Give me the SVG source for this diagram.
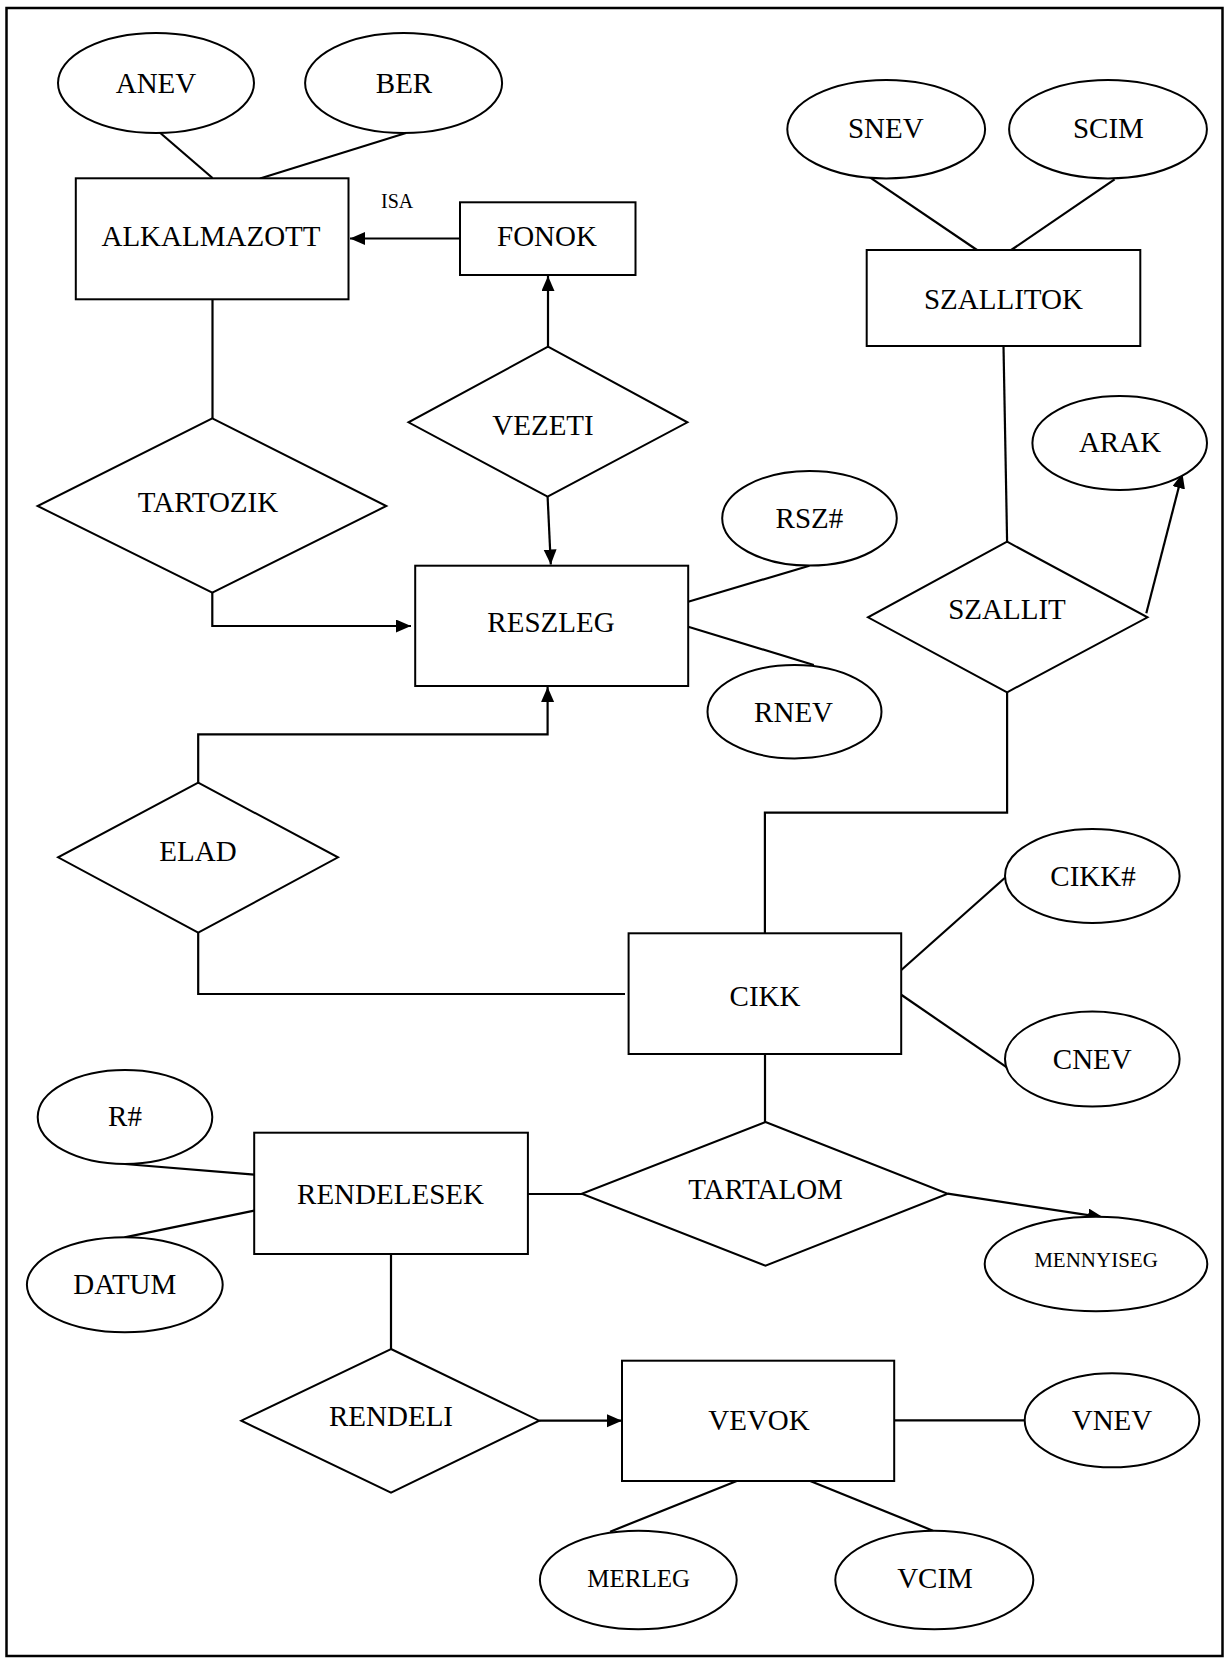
<svg xmlns="http://www.w3.org/2000/svg" width="1229" height="1663" viewBox="0 0 1229 1663">
<style>
.s{fill:#fff;stroke:#000;stroke-width:2}
.c{fill:none;stroke:#000;stroke-width:2.2}
text{font-family:"Liberation Serif","Times New Roman",serif;font-size:29px;fill:#000;text-anchor:middle}
.sm{font-size:20px;text-anchor:start}
</style>
<defs>
<marker id="ah" markerUnits="userSpaceOnUse" markerWidth="16" markerHeight="14" refX="15" refY="6.5" orient="auto">
<path d="M0,0 L15,6.5 L0,13 z" fill="#000"/>
</marker>
</defs>
<rect x="6.5" y="8" width="1216" height="1648" fill="#fff" stroke="#000" stroke-width="2.5"/>
<g id="connectors">
<line class="c" x1="158" y1="131" x2="212.5" y2="178"/>
<line class="c" x1="406" y1="133" x2="260" y2="178.5"/>
<line class="c" x1="460" y1="238.5" x2="350" y2="238.5" marker-end="url(#ah)"/>
<line class="c" x1="548" y1="346.7" x2="548" y2="276" marker-end="url(#ah)"/>
<line class="c" x1="212.5" y1="299.5" x2="212.5" y2="418.3"/>
<polyline class="c" points="212.3,592.7 212.3,626 411,626" marker-end="url(#ah)"/>
<line class="c" x1="547.6" y1="496.7" x2="550.8" y2="564.5" marker-end="url(#ah)"/>
<polyline class="c" points="198.2,782.7 198.2,734.3 547.6,734.3 547.6,687" marker-end="url(#ah)"/>
<polyline class="c" points="198.2,932.7 198.2,994 625,994"/>
<line class="c" x1="688.2" y1="601.7" x2="809.4" y2="565.7"/>
<line class="c" x1="688.2" y1="626.7" x2="813.8" y2="665"/>
<line class="c" x1="868.8" y1="176.7" x2="977" y2="250"/>
<line class="c" x1="1114.6" y1="179.3" x2="1011.2" y2="250"/>
<line class="c" x1="1003.5" y1="346" x2="1007.1" y2="541.7"/>
<line class="c" x1="1146.3" y1="613.3" x2="1182.4" y2="473.3" marker-end="url(#ah)"/>
<polyline class="c" points="1007.1,692.3 1007.1,812.7 764.9,812.7 764.9,933.3"/>
<line class="c" x1="898.8" y1="972.3" x2="1005" y2="877.7"/>
<line class="c" x1="901.6" y1="995" x2="1008.3" y2="1068.3"/>
<line class="c" x1="765" y1="1054" x2="765" y2="1122.3"/>
<line class="c" x1="124.6" y1="1164" x2="254.2" y2="1174.7"/>
<line class="c" x1="124.6" y1="1237.3" x2="254.2" y2="1210.7"/>
<line class="c" x1="527.9" y1="1194" x2="582.4" y2="1194"/>
<line class="c" x1="947.7" y1="1193.7" x2="1103" y2="1217.3" marker-end="url(#ah)"/>
<line class="c" x1="391" y1="1254" x2="391" y2="1349"/>
<line class="c" x1="539.2" y1="1420.7" x2="622" y2="1420.7" marker-end="url(#ah)"/>
<line class="c" x1="894.2" y1="1420.3" x2="1024.8" y2="1420.3"/>
<line class="c" x1="736.7" y1="1481" x2="610.1" y2="1531.7"/>
<line class="c" x1="810.2" y1="1481" x2="933" y2="1530.7"/>
</g>
<g id="ANEV"><ellipse class="s" cx="156" cy="83" rx="98" ry="50"/><text x="156" y="93">ANEV</text></g>
<g id="BER"><ellipse class="s" cx="403.6" cy="83" rx="98.5" ry="50"/><text x="404" y="93">BER</text></g>
<g id="ALKALMAZOTT"><rect class="s" x="75.8" y="178.3" width="272.7" height="121"/><text x="211" y="246">ALKALMAZOTT</text></g>
<g id="ISA"><text class="sm" x="381" y="208">ISA</text></g>
<g id="FONOK"><rect class="s" x="460" y="202.3" width="175.5" height="72.7"/><text x="547" y="246">FONOK</text></g>
<g id="VEZETI"><polygon class="s" points="548,346.7 687.4,422.3 547.6,496.7 408.5,422.3"/><text x="543" y="435">VEZETI</text></g>
<g id="TARTOZIK"><polygon class="s" points="212.3,418.3 386.3,506 212.3,592.7 37.6,506"/><text x="208" y="511.7">TARTOZIK</text></g>
<g id="RESZLEG"><rect class="s" x="415.2" y="565.7" width="273" height="120.3"/><text x="551" y="632.3">RESZLEG</text></g>
<g id="RSZ"><ellipse class="s" cx="809.5" cy="518.3" rx="87.3" ry="47.3"/><text x="809.4" y="528.3">RSZ#</text></g>
<g id="RNEV"><ellipse class="s" cx="794.5" cy="711.7" rx="87" ry="46.7"/><text x="793.6" y="721.7">RNEV</text></g>
<g id="SNEV"><ellipse class="s" cx="886.2" cy="129.2" rx="98.9" ry="49.2"/><text x="885.8" y="138.3">SNEV</text></g>
<g id="SCIM"><ellipse class="s" cx="1108" cy="129.2" rx="98.9" ry="49.2"/><text x="1108.4" y="138.3">SCIM</text></g>
<g id="SZALLITOK"><rect class="s" x="866.7" y="250" width="273.6" height="96"/><text x="1003.4" y="309.3">SZALLITOK</text></g>
<g id="ARAK"><ellipse class="s" cx="1119.7" cy="443" rx="87.3" ry="47"/><text x="1120" y="451.7">ARAK</text></g>
<g id="SZALLIT"><polygon class="s" points="1007.1,541.7 1147.5,617.3 1007.1,692.3 868,617.3"/><text x="1007" y="619.3">SZALLIT</text></g>
<g id="ELAD"><polygon class="s" points="198.2,782.7 338,857.3 198.2,932.7 58.1,857.3"/><text x="198" y="860.7">ELAD</text></g>
<g id="CIKK"><rect class="s" x="628.6" y="933.3" width="272.6" height="120.7"/><text x="765" y="1006">CIKK</text></g>
<g id="CIKKNO"><ellipse class="s" cx="1092.3" cy="876" rx="87.3" ry="47"/><text x="1093" y="885.7">CIKK#</text></g>
<g id="CNEV"><ellipse class="s" cx="1092.3" cy="1059" rx="87.3" ry="47.5"/><text x="1092.3" y="1069">CNEV</text></g>
<g id="R"><ellipse class="s" cx="125" cy="1117" rx="87.3" ry="47"/><text x="125" y="1126">R#</text></g>
<g id="DATUM"><ellipse class="s" cx="124.8" cy="1284.8" rx="97.9" ry="47.5"/><text x="124.8" y="1294.3">DATUM</text></g>
<g id="RENDELESEK"><rect class="s" x="254.2" y="1132.7" width="273.7" height="121.3"/><text x="390.5" y="1204">RENDELESEK</text></g>
<g id="TARTALOM"><polygon class="s" points="765.5,1122 947.7,1193.7 765.5,1265.7 581.8,1193.7"/><text x="765.5" y="1198.7">TARTALOM</text></g>
<g id="MENNYISEG"><ellipse class="s" cx="1096" cy="1264" rx="111.3" ry="47.3"/><text x="1096" y="1267.3" style="font-size:21px">MENNYISEG</text></g>
<g id="RENDELI"><polygon class="s" points="391,1349 539.2,1420.7 391,1492.7 241.3,1420.7"/><text x="391" y="1425.7">RENDELI</text></g>
<g id="VEVOK"><rect class="s" x="622" y="1360.7" width="272.2" height="120.3"/><text x="759" y="1430">VEVOK</text></g>
<g id="VNEV"><ellipse class="s" cx="1112" cy="1420.3" rx="87.3" ry="47"/><text x="1112" y="1430">VNEV</text></g>
<g id="MERLEG"><ellipse class="s" cx="638.3" cy="1580" rx="98.4" ry="49.3"/><text x="638.7" y="1586.7" style="font-size:25px">MERLEG</text></g>
<g id="VCIM"><ellipse class="s" cx="934.3" cy="1580" rx="99" ry="49.3"/><text x="935" y="1588.3">VCIM</text></g>
</svg>
